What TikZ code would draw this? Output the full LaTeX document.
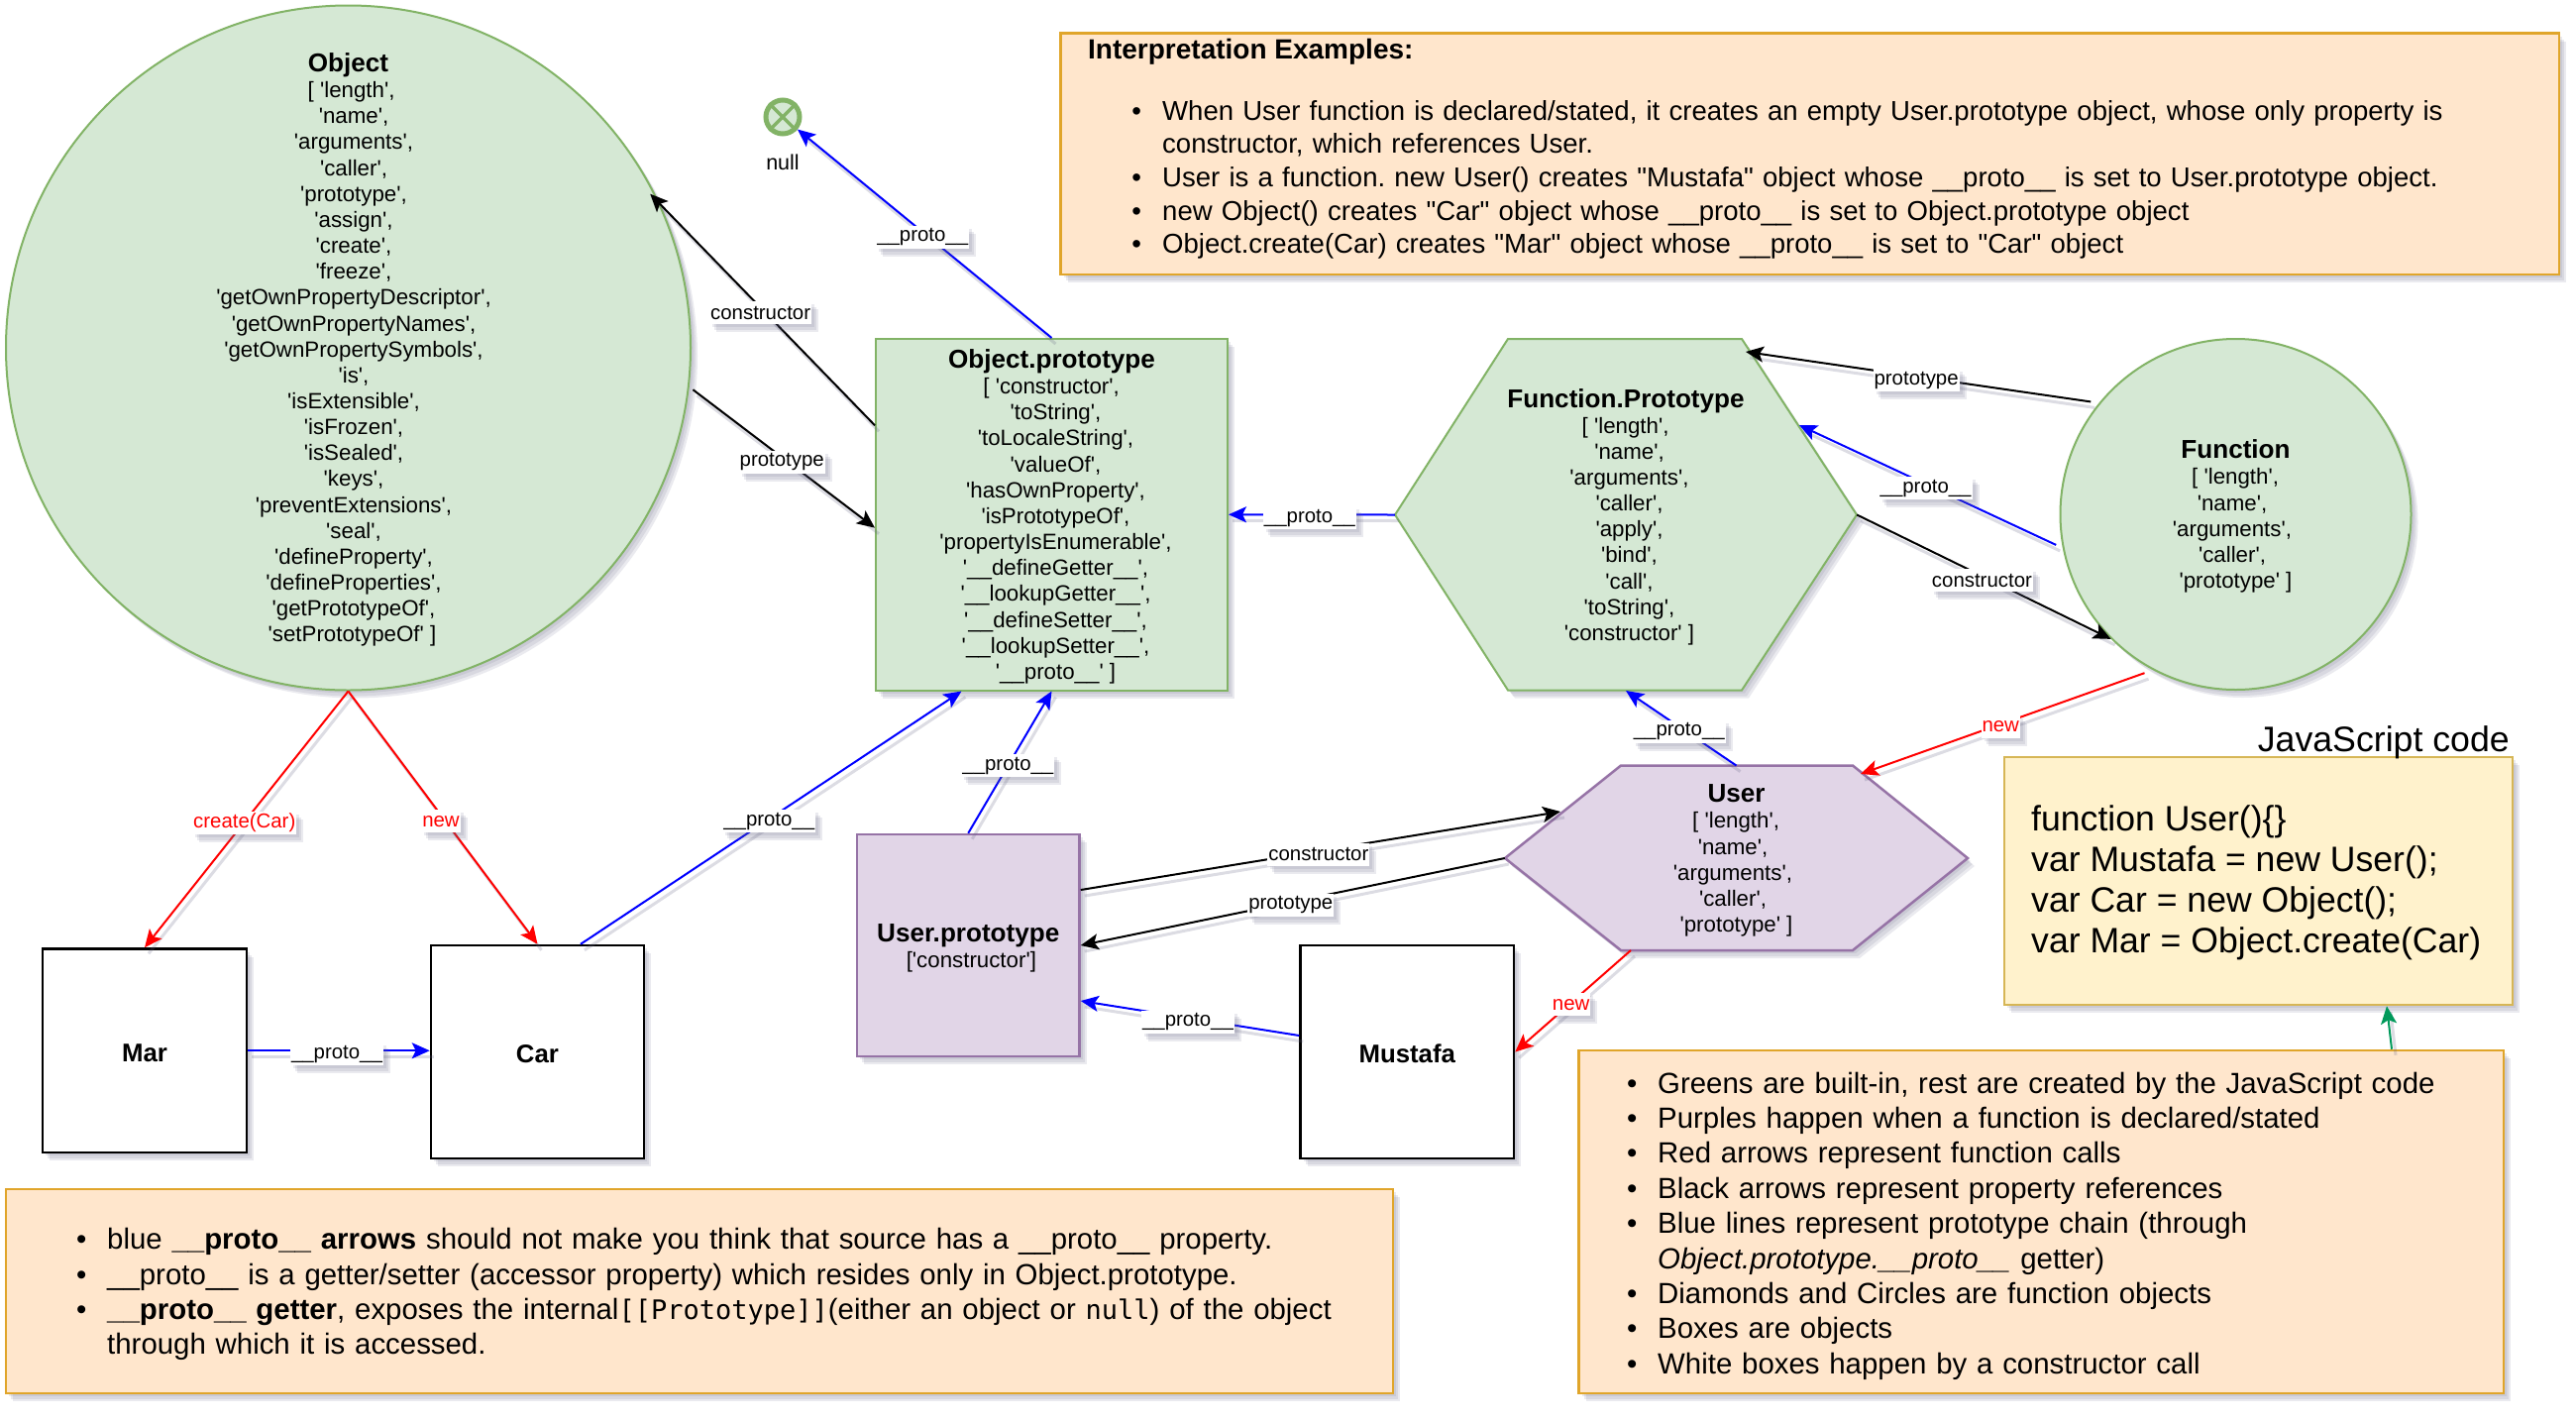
\documentclass[tikz,border=0pt]{standalone}
\usepackage{fontspec}
\setmainfont{Liberation Sans}[Ligatures=TeXOff]
\newfontfamily\mymono{DejaVu Sans Mono}
\usetikzlibrary{arrows.meta,calc}
\definecolor{gfill}{HTML}{D5E8D4}\definecolor{gline}{HTML}{82B366}
\definecolor{pfill}{HTML}{E1D5E7}\definecolor{pline}{HTML}{9673A6}
\definecolor{ofill}{HTML}{FFE6CC}\definecolor{oline}{HTML}{E0A52A}
\definecolor{yfill}{HTML}{FFF2CC}\definecolor{yline}{HTML}{D6B656}
\definecolor{shc}{HTML}{606080}\definecolor{arrgreen}{HTML}{00995A}
\newcommand{\pr}{\_\_proto\_\_}
\newcommand{\ttl}[1]{{\fontsize{26.1}{26}\selectfont\bfseries\rule{0pt}{23pt}#1}}
\newcommand{\NA}{\\\hspace*{11pt}}
\newcommand{\NB}{\\\hspace*{8pt}}
\newcommand{\NC}{\\\hspace*{7pt}}
\newcommand{\ND}{\\\hspace*{-7pt}}
\newenvironment{blist}{\begin{list}{}{\setlength{\topsep}{0pt}\setlength{\partopsep}{0pt}\setlength{\parsep}{0pt}\setlength{\itemsep}{0pt}\setlength{\leftmargin}{26pt}\setlength{\labelwidth}{0pt}\setlength{\labelsep}{26pt}\renewcommand{\makelabel}[1]{\makebox[0pt][c]{\textbullet}}}\frenchspacing}{\end{list}}
\tikzset{
 shd/.style={
  preaction={draw=none,fill=shc,fill opacity=.13,transform canvas={shift={(3pt,-3pt)}}},
  preaction={draw=none,fill=shc,fill opacity=.13,transform canvas={shift={(5pt,-6pt)}}},
  preaction={draw=none,fill=shc,fill opacity=.13,transform canvas={shift={(7pt,-8pt)}}}},
 lsh/.style={preaction={draw=shc,draw opacity=.22,line width=3pt,arrows=-,transform canvas={shift={(4pt,-6pt)}}}},
 base/.style={inner sep=0pt,align=center,font=\fontsize{22.3}{26.15}\selectfont},
 green/.style={shd,draw=gline,fill=gfill,line width=2pt},
 purple/.style={shd,draw=pline,fill=pfill,line width=2.5pt},
 wbox/.style={shd,base,rectangle,draw=black,fill=white,line width=2.5pt,font=\fontsize{25.8}{26}\selectfont\bfseries},
 obox/.style={shd,rectangle,draw=oline,fill=ofill,line width=2.5pt,inner sep=0pt},
 bodytext/.style={anchor=north west,inner sep=0pt,text width=#1,align=left,font=\fontsize{29.4}{35.4}\selectfont},
 conn/.style={lsh,line width=2pt,-{Stealth[length=18pt,width=16pt,inset=4pt]}},
 bl/.style={conn,blue},rd/.style={conn,red},bk/.style={conn,black},
 lbl/.style={shd,fill=white,text=black,inner sep=1pt,minimum height=23pt,xshift=-2pt,yshift=-3.5pt,font=\fontsize{20.4}{23}\selectfont},
}
\begin{document}
\begin{tikzpicture}[x=1pt,y=-1pt]
\useasboundingbox (0,0) rectangle (2600,1436);
% Object
\node[green,base,circle,minimum size=691pt] (obj) at (351.5,351) {\ttl{Object}\\{}
[ 'length',\NA 'name',\NA 'arguments',\NA 'caller',\NA 'prototype',\NA 'assign',\NA 'create',\NA 'freeze',\NA 'getOwnPropertyDescriptor',\NA 'getOwnPropertyNames',\NA 'getOwnPropertySymbols',\NA 'is',\NA 'isExtensible',\NA 'isFrozen',\NA 'isSealed',\NA 'keys',\NA 'preventExtensions',\NA 'seal',\NA 'defineProperty',\NA 'defineProperties',\NA 'getPrototypeOf',\NB 'setPrototypeOf' ]};
% null
\node[circle,draw=gline,fill=gfill,line width=5pt,minimum size=34pt,inner sep=0pt] (nul) at (790,118) {};
\draw[gline,line width=3.5pt] (nul.45) -- (nul.225) (nul.135) -- (nul.315);
\node[font=\fontsize{21.5}{23}\selectfont,inner sep=0pt] (nulltext) at (790,164) {null};
% Object.prototype
\node[green,base,rectangle,minimum width=355pt,minimum height=354.5pt] (op) at (1061.5,519.25) {\ttl{Object.prototype}\ND{}
[ 'constructor',\NB 'toString',\NB 'toLocaleString',\NB 'valueOf',\NB 'hasOwnProperty',\NB 'isPrototypeOf',\NB 'propertyIsEnumerable',\NB '\_\_defineGetter\_\_',\NB '\_\_lookupGetter\_\_',\NB '\_\_defineSetter\_\_',\NB '\_\_lookupSetter\_\_',\NB '\_\_proto\_\_' ]};
% Function.Prototype
\path[green] (1408,519.5) -- (1522,342) -- (1758,342) -- (1874,519.5) -- (1758,696.5) -- (1522,696.5) -- cycle;
\node[base,rectangle,minimum width=466pt,minimum height=354.5pt] (fp) at (1641,519.5) {\ttl{Function.Prototype}\ND{}
[ 'length',\NC 'name',\NC 'arguments',\NC 'caller',\NC 'apply',\NC 'bind',\NC 'call',\NC 'toString',\NC 'constructor' ]};
% Function
\node[green,base,circle,minimum size=354pt] (fn) at (2256.5,519) {\ttl{Function}\ND{}
[ 'length',\ND 'name',\ND 'arguments',\ND 'caller',\\ 'prototype' ]};
% User
\path[purple] (1519,866) -- (1636,772.5) -- (1870,772.5) -- (1986,866) -- (1870,959) -- (1636,959) -- cycle;
\node[base,rectangle,minimum width=467pt,minimum height=186.5pt] (user) at (1752.5,866) {\ttl{User}\ND{}
[ 'length',\ND 'name',\ND 'arguments',\ND 'caller',\\ 'prototype' ]};
% User.prototype
\node[purple,base,rectangle,minimum width=224.5pt,minimum height=224pt] (up) at (977.25,954) {\ttl{User.prototype}\\{} ['constructor']};
% white boxes
\node[wbox,minimum width=206pt,minimum height=205.5pt] (mar) at (146,1060.25) {\rule{0pt}{22pt}Mar};
\node[wbox,minimum width=215pt,minimum height=215pt] (car) at (542.5,1061.5) {\rule{0pt}{22pt}Car};
\node[wbox,minimum width=215.5pt,minimum height=215pt] (mus) at (1420.25,1061.5) {\rule{0pt}{22pt}Mustafa};
% orange/yellow boxes
\node[obox,minimum width=1512.5pt,minimum height=243.5pt] (interp) at (1826.75,155.25) {};
\node[anchor=west,inner sep=0pt,font=\fontsize{28}{30}\selectfont\bfseries] (interptitle) at (1098,52) {Interpretation Examples:};
\node[bodytext=1420pt,font=\fontsize{27.55}{33.6}\selectfont] (interptext) at (1147,87.5) {\begin{blist}
\item When User function is declared/stated, it creates an empty User.prototype object, whose only property is\\ constructor, which references User.
\item User is a function. new User() creates "Mustafa" object whose \pr{} is set to User.prototype object.
\item new Object() creates "Car" object whose \pr{} is set to Object.prototype object
\item Object.create(Car) creates "Mar" object whose \pr{} is set to "Car" object
\end{blist}};
\node[obox,minimum width=1400pt,minimum height=206pt] (noteleft) at (706,1303) {};
\node[bodytext=1290pt] (notelefttext) at (82,1225) {\begin{blist}
\item blue \textbf{\pr{} arrows} should not make you think that source has a \pr{} property.
\item \pr{} is a getter/setter (accessor property) which resides only in Object.prototype.
\item \textbf{\pr{} getter}, exposes the internal{\mymono\fontsize{27}{35}\selectfont [[Prototype]]}(either an object or {\mymono\fontsize{27}{35}\selectfont null}) of the object\\ through which it is accessed.
\end{blist}};
\node[obox,minimum width=933.5pt,minimum height=346pt] (noteright) at (2060.25,1233) {};
\node[bodytext=860pt] (noterighttext) at (1647,1067.5) {\begin{blist}
\item Greens are built-in, rest are created by the JavaScript code
\item Purples happen when a function is declared/stated
\item Red arrows represent function calls
\item Black arrows represent property references
\item Blue lines represent prototype chain (through\\ \textit{Object.prototype.\pr{}} getter)
\item Diamonds and Circles are function objects
\item Boxes are objects
\item White boxes happen by a constructor call
\end{blist}};
\node[shd,rectangle,draw=yline,fill=yfill,line width=2.5pt,minimum width=513pt,minimum height=250pt] (code) at (2279.5,889) {};
\node[anchor=west,inner sep=0pt,align=left,font=\fontsize{35.6}{41}\selectfont] (codetext) at (2050,891) {function User()\{\}\\ var Mustafa = new User();\\ var Car = new Object();\\ var Mar = Object.create(Car)};
\node[anchor=east,inner sep=0pt,font=\fontsize{35.7}{40}\selectfont] (jscode) at (2533,749) {JavaScript code};
% free end points on the hexagons
\coordinate (fpup) at (1762,355);
\coordinate (fpmid) at (1816,429);
\coordinate (usertr) at (1878,781);
\coordinate (usertl) at (1575,819);
\coordinate (userbl) at (1646,959);
% connectors
\draw[bl] (op.north) -- node[lbl]{\pr} (nul.-40);
\draw[bk] ([yshift=90pt]op.west) -- node[lbl]{constructor} ([xshift=-4pt,yshift=-2pt]obj.27);
\draw[bk] ([xshift=4pt]obj.353) -- node[lbl]{prototype} ([yshift=-13.4pt]op.west);
\draw[bl] (fp.west) -- node[lbl]{\pr} (op.east);
\draw[bk] ([xshift=-6pt,yshift=4pt]fn.142) -- node[lbl]{prototype} (fpup);
\draw[bl] ([xshift=-6pt]fn.190) -- node[lbl]{\pr} (fpmid);
\draw[bk] (fp.east) -- node[lbl]{constructor} (fn.225);
\draw[rd] ([xshift=-3pt,yshift=-6pt]fn.240) -- node[lbl,text=red]{new} (usertr);
\draw[bl] (user.north) -- node[lbl]{\pr} (fp.south);
\draw[bl] (up.north) -- node[lbl]{\pr} (op.south);
\draw[bl] ([xshift=43.5pt]car.north) -- node[lbl]{\pr} ([xshift=-91pt]op.south);
\draw[rd] (obj.south) -- node[lbl,text=red]{create(Car)} (mar.north);
\draw[rd] (obj.south) -- node[lbl,text=red]{new} (car.north);
\draw[bl] (mar.east) -- node[lbl]{\pr} ([yshift=1.25pt]car.west);
\draw[bk] ([yshift=56pt]up.east) -- node[lbl]{constructor} (usertl);
\draw[bk] (user.west) -- node[lbl]{prototype} (up.east);
\draw[bl] ([yshift=16.5pt]mus.west) -- node[lbl]{\pr} ([yshift=-56pt]up.east);
\draw[rd] (userbl) -- node[lbl,text=red]{new} (mus.east);
\draw[conn,arrgreen] ([xshift=353.75pt]noteright.north) -- ([xshift=129.5pt]code.south);
\end{tikzpicture}
\end{document}
